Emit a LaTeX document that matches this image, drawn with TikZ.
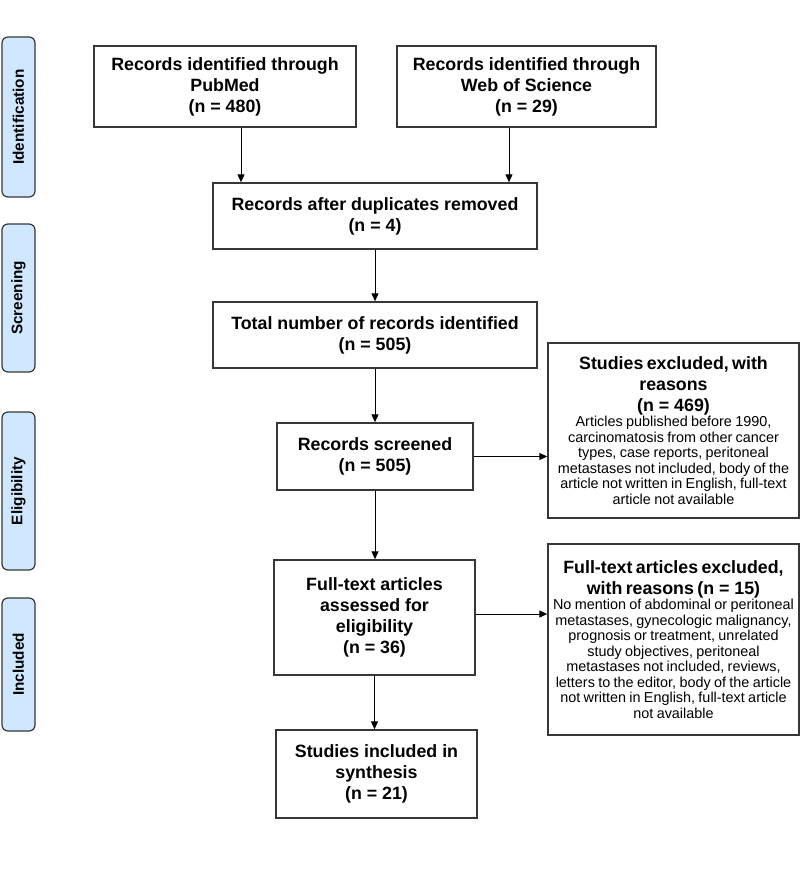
\documentclass[tikz,border=0pt]{standalone}
\usepackage{fontspec}
\setmainfont{Liberation Sans}
\usetikzlibrary{arrows.meta}
\definecolor{sidefill}{RGB}{207,232,255}
\definecolor{edge}{RGB}{55,55,55}
\newcommand{\wsp}{\hspace{0.278em}}
\begin{document}
\begin{tikzpicture}[x=1pt,y=-1pt,
  box/.style={draw=edge,line width=1.4pt,fill=white,align=center,inner sep=0pt,
    font=\bfseries\fontsize{17.8}{21}\selectfont},
  side/.style={draw=edge,line width=1.2pt,fill=sidefill,rounded corners=6pt,inner sep=0pt,
    rotate=90,minimum height=33pt,font=\bfseries\fontsize{15.3}{18}\selectfont},
  arr/.style={-{Triangle[length=8pt,width=7pt]},line width=1pt,draw=black}]
\useasboundingbox[fill=white] (0,0) rectangle (800,887);

% side bars
\node[side,minimum width=160pt] (sid) at (18.5,117) {Identification};
\node[side,minimum width=148pt] (ssc) at (18.5,298) {Screening};
\node[side,minimum width=158pt] (sel) at (18.5,491) {Eligibility};
\node[side,minimum width=133pt] (sin) at (18.5,664.5) {Included};

% boxes
\node[box,minimum width=262pt,minimum height=81pt] (pub) at (225,86.5)
  {Records identified through\\PubMed\\(n = 480)};
\node[box,minimum width=259pt,minimum height=81pt] (wos) at (526.5,86.5)
  {Records identified through\\Web of Science\\(n = 29)};
\node[box,minimum width=324pt,minimum height=66pt] (dup) at (375,216)
  {Records after duplicates removed\\(n = 4)};
\node[box,minimum width=324pt,minimum height=66pt] (tot) at (375,335)
  {Total number of records identified\\(n = 505)};
\node[box,minimum width=196pt,minimum height=67pt] (scr) at (375,456.5)
  {Records screened\\(n = 505)};
\node[box,minimum width=201pt,minimum height=115pt] (ft) at (374.5,617.5)
  {Full-text articles\\assessed for\\eligibility\\(n = 36)};
\node[box,minimum width=201pt,minimum height=88pt] (inc) at (376.5,774)
  {Studies included in\\synthesis\\(n = 21)};

\node[box,minimum width=251pt,minimum height=175pt,text width=247pt,font=\normalfont] (ex1) at (673.5,430.5)
  {{\bfseries\fontsize{17.8}{21}\selectfont \mbox{Studies excluded, with}\\\mbox{reasons}\\\mbox{(n\wsp=\wsp469)}\par}
   {\fontsize{14.4}{15.5}\selectfont \mbox{Articles published before 1990,}\\\mbox{carcinomatosis from other cancer}\\\mbox{types, case reports, peritoneal}\\\mbox{metastases not included, body of the}\\\mbox{article not written in English, full-text}\\\mbox{article not available}\par}};
\node[box,minimum width=251pt,minimum height=191pt,text width=247pt,font=\normalfont] (ex2) at (673.5,639.5)
  {{\bfseries\fontsize{17.8}{21}\selectfont \mbox{Full-text articles excluded,}\\\mbox{with reasons (n\wsp=\wsp15)}\par}
   {\fontsize{14.4}{15.5}\selectfont \mbox{No mention of abdominal or peritoneal}\\\mbox{metastases, gynecologic malignancy,}\\\mbox{prognosis or treatment, unrelated}\\\mbox{study objectives, peritoneal}\\\mbox{metastases not included, reviews,}\\\mbox{letters to the editor, body of the article}\\\mbox{not written in English, full-text article}\\\mbox{not available}\par}};

% connectors
\draw[arr] ([xshift=16pt]pub.south) -- ([xshift=16pt]pub.south |- dup.north);
\draw[arr] ([xshift=-17.5pt]wos.south) -- ([xshift=-17.5pt]wos.south |- dup.north);
\draw[arr] (dup.south) -- (tot.north);
\draw[arr] (tot.south) -- (scr.north);
\draw[arr] (scr.south) -- (scr.south |- ft.north);
\draw[arr] (scr.east) -- (scr.east -| ex1.west);
\draw[arr] ([yshift=3.5pt]ft.east) -- ([yshift=3.5pt]ft.east -| ex2.west);
\draw[arr] (ft.south) -- (ft.south |- inc.north);
\end{tikzpicture}
\end{document}
